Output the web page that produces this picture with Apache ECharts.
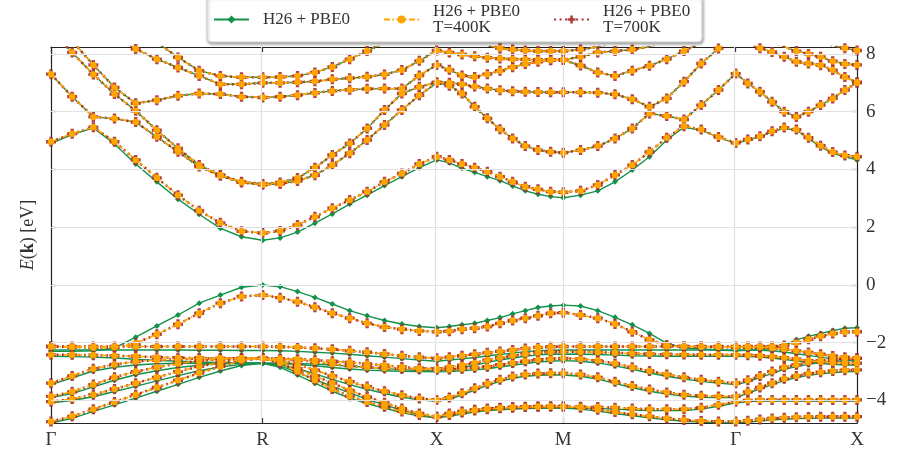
<!DOCTYPE html>
<html><head><meta charset="utf-8">
<script src="https://cdn.jsdelivr.net/npm/echarts@6/dist/echarts.min.js"></script>
<style>html,body{margin:0;padding:0;background:#fff}#c{width:898px;height:461px}</style>
</head><body><div id="c"></div>
<script>
// High-symmetry points along the k-path (path-length coordinates) and their labels
const kLabels = ['Γ','R','X','M','Γ','X'];
const kPos = [0, 0.8641, 1.5743, 2.0910, 2.7947, 3.2898];
const pointsPerSegment = 10;
const yTicks = [-4, -2, 0, 2, 4, 6, 8];
const yMin = -4.78, yMax = 8.24;

// ---- H26 + PBE0 (green) ----
const G_CB1 = [4.90,5.21,5.44,4.88,4.19,3.57,2.97,2.45,1.96,1.67,1.55, 1.63,1.83,2.14,2.46,2.80,3.11,3.44,3.75,4.06,4.33, 4.23,4.04,3.90,3.75,3.61,3.43,3.26,3.14,3.06,3.02, 3.11,3.26,3.57,3.98,4.44,5.02,5.46,5.36,5.11,4.90, 5.02,5.13,5.30,5.42,5.36,5.07,4.79,4.56,4.44,4.33];
const G_VB1 = [-2.30,-2.30,-2.28,-2.19,-1.81,-1.42,-1.04,-0.63,-0.35,-0.08,0.00, -0.06,-0.23,-0.43,-0.66,-0.89,-1.07,-1.23,-1.35,-1.44,-1.48, -1.44,-1.38,-1.33,-1.23,-1.13,-1.00,-0.89,-0.78,-0.73,-0.70, -0.73,-0.89,-1.12,-1.38,-1.68,-2.02,-2.18,-2.22,-2.25,-2.28, -2.26,-2.24,-2.20,-2.10,-1.90,-1.78,-1.68,-1.58,-1.50,-1.48];
const G_VB2 = [-2.25,-2.25,-2.25,-2.25,-2.25,-2.25,-2.25,-2.26,-2.26,-2.27,-2.27, -2.28,-2.30,-2.33,-2.36,-2.40,-2.45,-2.50,-2.55,-2.60,-2.64, -2.60,-2.56,-2.51,-2.46,-2.41,-2.36,-2.31,-2.28,-2.26,-2.25, -2.25,-2.25,-2.25,-2.25,-2.25,-2.25,-2.25,-2.25,-2.25,-2.25, -2.25,-2.26,-2.28,-2.32,-2.38,-2.44,-2.50,-2.56,-2.60,-2.64];
const G_VB3 = [-2.47,-2.48,-2.50,-2.53,-2.57,-2.61,-2.64,-2.67,-2.69,-2.70,-2.71, -2.71,-2.72,-2.74,-2.77,-2.81,-2.85,-2.89,-2.93,-2.96,-2.98, -2.93,-2.86,-2.78,-2.68,-2.60,-2.53,-2.47,-2.42,-2.40,-2.39, -2.40,-2.41,-2.43,-2.45,-2.46,-2.47,-2.47,-2.47,-2.47,-2.47, -2.48,-2.50,-2.53,-2.58,-2.63,-2.68,-2.72,-2.75,-2.77,-2.78];
const G_VB4 = [-3.45,-3.22,-2.98,-2.85,-2.77,-2.73,-2.71,-2.71,-2.71,-2.71,-2.71, -2.72,-2.75,-2.80,-2.86,-2.91,-2.95,-2.97,-2.99,-3.00,-3.01, -3.00,-2.97,-2.94,-2.90,-2.84,-2.78,-2.72,-2.67,-2.64,-2.62, -2.64,-2.70,-2.80,-2.92,-3.05,-3.16,-3.26,-3.34,-3.40,-3.45, -3.35,-3.21,-3.06,-2.92,-2.83,-2.75,-2.69,-2.65,-2.62,-2.61];
const G_VB5 = [-3.90,-3.76,-3.53,-3.30,-3.11,-2.97,-2.86,-2.78,-2.73,-2.71,-2.71, -2.76,-2.90,-3.08,-3.27,-3.45,-3.61,-3.76,-3.89,-3.98,-4.03, -3.95,-3.81,-3.64,-3.48,-3.34,-3.23,-3.16,-3.13,-3.12,-3.12, -3.16,-3.26,-3.41,-3.56,-3.68,-3.78,-3.85,-3.89,-3.90,-3.90, -3.75,-3.60,-3.45,-3.31,-3.21,-3.13,-3.08,-3.04,-3.01,-3.00];
const G_VB6 = [-4.08,-4.00,-3.87,-3.69,-3.51,-3.32,-3.14,-2.97,-2.84,-2.75,-2.71, -2.80,-3.03,-3.27,-3.51,-3.74,-3.96,-4.15,-4.34,-4.50,-4.60, -4.50,-4.43,-4.37,-4.33,-4.30,-4.28,-4.27,-4.26,-4.26,-4.26, -4.27,-4.28,-4.30,-4.33,-4.35,-4.35,-4.35,-4.30,-4.20,-4.08, -4.04,-4.02,-4.02,-4.02,-4.02,-4.02,-4.02,-4.02,-4.02,-4.02];
const G_VB7 = [-4.78,-4.62,-4.38,-4.15,-3.92,-3.68,-3.44,-3.20,-2.98,-2.79,-2.71, -2.85,-3.12,-3.40,-3.68,-3.92,-4.11,-4.27,-4.42,-4.54,-4.60, -4.55,-4.47,-4.40,-4.35,-4.32,-4.30,-4.28,-4.27,-4.26,-4.26, -4.30,-4.37,-4.45,-4.53,-4.60,-4.67,-4.72,-4.75,-4.77,-4.78, -4.75,-4.71,-4.67,-4.65,-4.63,-4.62,-4.61,-4.61,-4.61,-4.61];

// ---- H26 + PBE0, finite temperature (T=400K and T=700K coincide at this resolution) ----
const T_CB1 = [4.96,5.24,5.46,4.96,4.33,3.71,3.11,2.57,2.15,1.86,1.80, 1.87,2.08,2.36,2.66,2.94,3.23,3.57,3.86,4.19,4.44, 4.33,4.19,4.06,3.92,3.75,3.57,3.40,3.31,3.23,3.21, 3.26,3.46,3.81,4.15,4.61,5.10,5.50,5.38,5.12,4.92, 5.04,5.15,5.32,5.45,5.38,5.10,4.82,4.60,4.48,4.44];
const T_VB1 = [-2.13,-2.15,-2.17,-2.16,-2.02,-1.71,-1.36,-0.98,-0.63,-0.40,-0.35, -0.44,-0.58,-0.77,-0.98,-1.15,-1.33,-1.46,-1.53,-1.59,-1.62, -1.60,-1.53,-1.50,-1.44,-1.33,-1.23,-1.15,-1.07,-0.98,-0.96, -1.04,-1.15,-1.35,-1.62,-1.90,-2.08,-2.13,-2.13,-2.13,-2.13, -2.13,-2.13,-2.13,-2.10,-2.00,-1.88,-1.78,-1.68,-1.63,-1.62];
const T_VB2 = [-2.13,-2.13,-2.13,-2.13,-2.13,-2.13,-2.13,-2.13,-2.13,-2.13,-2.13, -2.14,-2.16,-2.19,-2.23,-2.28,-2.33,-2.39,-2.45,-2.50,-2.54, -2.50,-2.45,-2.40,-2.35,-2.30,-2.25,-2.20,-2.16,-2.14,-2.13, -2.13,-2.13,-2.13,-2.13,-2.13,-2.13,-2.13,-2.14,-2.15,-2.16, -2.16,-2.16,-2.18,-2.22,-2.28,-2.34,-2.40,-2.46,-2.50,-2.54];
const T_VB3 = [-2.42,-2.42,-2.43,-2.45,-2.47,-2.50,-2.52,-2.53,-2.54,-2.54,-2.54, -2.55,-2.57,-2.60,-2.64,-2.68,-2.73,-2.78,-2.84,-2.88,-2.90, -2.85,-2.78,-2.70,-2.60,-2.52,-2.45,-2.39,-2.34,-2.32,-2.31, -2.32,-2.33,-2.35,-2.37,-2.39,-2.40,-2.41,-2.42,-2.42,-2.42, -2.43,-2.45,-2.48,-2.52,-2.57,-2.62,-2.66,-2.69,-2.71,-2.71];
const T_VB4 = [-3.40,-3.15,-2.90,-2.75,-2.65,-2.60,-2.57,-2.55,-2.54,-2.54,-2.54, -2.56,-2.60,-2.66,-2.74,-2.80,-2.85,-2.88,-2.90,-2.92,-2.94, -2.93,-2.90,-2.87,-2.83,-2.76,-2.70,-2.64,-2.59,-2.56,-2.54, -2.56,-2.62,-2.72,-2.85,-2.98,-3.10,-3.20,-3.28,-3.35,-3.40, -3.30,-3.15,-3.00,-2.85,-2.76,-2.68,-2.62,-2.58,-2.55,-2.54];
const T_VB5 = [-3.86,-3.70,-3.45,-3.20,-3.00,-2.85,-2.72,-2.63,-2.57,-2.54,-2.54, -2.60,-2.75,-2.95,-3.15,-3.35,-3.52,-3.68,-3.82,-3.93,-3.98, -3.90,-3.75,-3.58,-3.42,-3.28,-3.17,-3.10,-3.07,-3.06,-3.06, -3.10,-3.20,-3.35,-3.50,-3.62,-3.72,-3.80,-3.84,-3.86,-3.86, -3.70,-3.55,-3.40,-3.25,-3.15,-3.07,-3.02,-2.98,-2.95,-2.94];
const T_VB6 = [-4.04,-3.95,-3.80,-3.60,-3.40,-3.20,-3.00,-2.82,-2.68,-2.58,-2.54, -2.65,-2.90,-3.15,-3.40,-3.65,-3.88,-4.08,-4.28,-4.45,-4.56, -4.45,-4.38,-4.32,-4.28,-4.25,-4.23,-4.22,-4.21,-4.21,-4.21, -4.22,-4.23,-4.25,-4.28,-4.30,-4.30,-4.30,-4.25,-4.15,-4.04, -4.00,-3.98,-3.98,-3.98,-3.98,-3.98,-3.98,-3.98,-3.98,-3.98];
const T_VB7 = [-4.73,-4.55,-4.30,-4.05,-3.80,-3.55,-3.30,-3.05,-2.82,-2.62,-2.54, -2.70,-3.00,-3.30,-3.60,-3.85,-4.05,-4.22,-4.38,-4.50,-4.56, -4.50,-4.42,-4.35,-4.30,-4.27,-4.25,-4.23,-4.22,-4.21,-4.21, -4.25,-4.32,-4.40,-4.48,-4.55,-4.62,-4.68,-4.71,-4.73,-4.73, -4.70,-4.66,-4.62,-4.60,-4.58,-4.57,-4.56,-4.56,-4.56,-4.56];

// ---- upper conduction bands, where all three calculations coincide ----
const CB2 = [7.30,6.52,5.82,5.76,5.64,5.13,4.61,4.10,3.78,3.55,3.47, 3.50,3.60,3.80,4.15,4.56,5.02,5.54,6.06,6.57,7.00, 6.90,6.63,6.17,5.77,5.39,5.07,4.81,4.67,4.61,4.58, 4.67,4.81,5.07,5.42,5.94,5.85,5.73,6.23,6.75,7.32, 6.98,6.69,6.34,6.00,5.82,6.00,6.23,6.46,6.75,7.00];
const CB3 = [8.80,8.05,7.29,6.61,6.03,5.36,4.73,4.15,3.81,3.57,3.50, 3.55,3.70,4.06,4.50,4.90,5.42,6.06,6.63,6.86,7.02, 7.00,6.95,6.87,6.80,6.74,6.71,6.69,6.68,6.67,6.67, 6.67,6.66,6.60,6.43,6.17,6.46,7.04,7.67,8.19,8.70, 8.40,8.20,8.07,7.90,7.73,7.67,7.61,7.44,7.20,7.02];
const CB4 = [9.20,8.45,7.62,6.84,6.29,6.40,6.55,6.63,6.61,6.52,6.49, 6.52,6.57,6.65,6.72,6.76,6.79,6.80,6.80,7.25,7.62, 7.45,7.25,7.20,7.30,7.42,7.54,7.65,7.73,7.78,7.79, 7.60,7.36,7.24,7.42,7.59,7.82,8.10,8.40,8.70,9.00, 8.80,8.60,8.40,8.25,8.10,8.00,7.90,7.75,7.65,7.62];
const CB5 = [9.60,9.30,9.00,8.70,8.17,7.82,7.53,7.24,6.95,6.95,7.00, 7.00,7.02,7.05,7.12,7.16,7.21,7.29,7.44,7.76,8.12, 8.05,7.98,7.92,7.87,7.84,7.82,7.81,7.80,7.80,7.80, 7.90,8.05,8.10,8.15,8.25,8.50,8.70,8.90,9.10,9.30, 9.10,8.95,8.80,8.70,8.60,8.50,8.40,8.30,8.20,8.12];
const CB6 = [9.80,9.60,9.40,9.10,9.00,8.40,7.88,7.42,7.24,7.19,7.19, 7.20,7.24,7.36,7.55,7.82,8.10,8.40,8.70,8.95,9.10, 8.80,8.60,8.45,8.30,8.20,8.15,8.12,8.10,8.10,8.10, 8.15,8.25,8.40,8.60,8.80,9.00,9.20,9.40,9.50,9.60, 9.50,9.40,9.30,9.20,9.10,9.00,8.90,8.80,8.70,8.60];

const bandsGreen = [G_CB1, CB2, CB3, CB4, CB5, CB6, G_VB1, G_VB2, G_VB3, G_VB4, G_VB5, G_VB6, G_VB7];
const bands400 = [T_CB1, CB2, CB3, CB4, CB5, CB6, T_VB1, T_VB2, T_VB3, T_VB4, T_VB5, T_VB6, T_VB7];
const bands700 = [T_CB1, CB2, CB3, CB4, CB5, CB6, T_VB1, T_VB2, T_VB3, T_VB4, T_VB5, T_VB6, T_VB7];

// k-grid: evenly spaced points inside each path segment
const kGrid = [];
for (let s = 0; s < kPos.length - 1; s++) {
  for (let i = 0; i < pointsPerSegment; i++) kGrid.push(kPos[s] + (kPos[s+1] - kPos[s]) * i / pointsPerSegment);
}
kGrid.push(kPos[kPos.length - 1]);

const NAME_G = 'H26 + PBE0', NAME_4 = 'H26 + PBE0\nT=400K', NAME_7 = 'H26 + PBE0\nT=700K';
const GREEN = '#12924a', ORANGE = '#ffa500', RED = '#a8302c';
const PLUS = 'path://M3,0H6V3H9V6H6V9H3V6H0V3H3Z';
const FONT = 'Liberation Serif';

const series = [];
// grid lines (drawn under the data)
series.push({
  type: 'line', data: [], silent: true, z: 0,
  markLine: {
    silent: true, symbol: 'none', label: {show: false}, animation: false,
    lineStyle: {color: '#e2e2e2', width: 1.2, type: 'solid'},
    data: kPos.slice(1, -1).map(x => ({xAxis: x})).concat(yTicks.map(y => ({yAxis: y})))
  }
});
function addSet(bands, name, style) {
  bands.forEach(b => {
    series.push(Object.assign({
      type: 'line', name: name, animation: false,
      data: kGrid.map((k, i) => [k, b[i]]),
      clip: true
    }, style));
  });
}
addSet(bandsGreen, NAME_G, {
  z: 2, color: GREEN, symbol: 'diamond', symbolSize: 6,
  lineStyle: {color: GREEN, width: 1.4, type: 'solid'},
  itemStyle: {color: GREEN}
});
addSet(bands700, NAME_7, {
  z: 3, color: RED, symbol: PLUS, symbolSize: 10,
  lineStyle: {color: RED, width: 2.5, type: [2, 3.5]},
  itemStyle: {color: RED, opacity: 0.9}
});
addSet(bands400, NAME_4, {
  z: 4, color: ORANGE, symbol: 'circle', symbolSize: 6.5,
  lineStyle: {color: ORANGE, width: 1.5, type: [6, 2.5, 1.5, 2.5]},
  itemStyle: {color: ORANGE}
});

const axisLineStyle = {color: '#222', width: 1.2};
const fmtY = v => (v < 0 ? '\u2212' + (-v) : String(v));
function nearestLabel(v) {
  let best = 0;
  kPos.forEach((p, i) => { if (Math.abs(p - v) < Math.abs(kPos[best] - v)) best = i; });
  return kLabels[best];
}

const chart = echarts.init(document.getElementById('c'), null, {renderer: 'canvas'});
chart.setOption({
  animation: false,
  backgroundColor: '#fff',
  grid: {left: 51, right: 41, top: 47, bottom: 38, containLabel: false},
  legend: {
    data: [NAME_G, NAME_4, NAME_7],
    left: 207, top: -4,
    padding: [7, 12, 6, 6],
    itemGap: 33, itemWidth: 35, itemHeight: 10,
    backgroundColor: '#fff', borderColor: '#cccccc', borderWidth: 1, borderRadius: 4,
    shadowColor: 'rgba(0,0,0,0.35)', shadowBlur: 3, shadowOffsetX: 1, shadowOffsetY: 2,
    textStyle: {fontFamily: FONT, fontSize: 17, color: '#333', lineHeight: 16, padding: [0, 0, 0, 9]},
    selectedMode: false
  },
  xAxis: [{
    type: 'value', position: 'bottom', min: 0, max: kPos[kPos.length - 1],
    axisLine: {show: true, onZero: false, lineStyle: axisLineStyle},
    axisTick: {show: true, inside: true, length: 5, customValues: kPos, lineStyle: axisLineStyle},
    axisLabel: {show: true, customValues: kPos, formatter: v => nearestLabel(v), fontFamily: FONT, fontSize: 19, color: '#333', margin: 8},
    splitLine: {show: false}
  }, {
    type: 'value', position: 'top', min: 0, max: kPos[kPos.length - 1],
    axisLine: {show: true, onZero: false, lineStyle: axisLineStyle},
    axisTick: {show: true, inside: true, length: 5, customValues: kPos, lineStyle: axisLineStyle},
    axisLabel: {show: false}, splitLine: {show: false}
  }],
  yAxis: [{
    type: 'value', position: 'left', min: yMin, max: yMax,
    axisLine: {show: true, onZero: false, lineStyle: axisLineStyle},
    axisTick: {show: true, inside: true, length: 5, customValues: yTicks, lineStyle: axisLineStyle},
    axisLabel: {show: false}, splitLine: {show: false},
    name: '{i|E}({b|k}) [eV]', nameLocation: 'middle', nameGap: 14, nameRotate: 90,
    nameTextStyle: {fontFamily: FONT, fontSize: 18, color: '#333',
      rich: {i: {fontStyle: 'italic', fontFamily: FONT, fontSize: 18, color: '#333'},
             b: {fontWeight: 'bold', fontFamily: FONT, fontSize: 18, color: '#333'}}}
  }, {
    type: 'value', position: 'right', min: yMin, max: yMax,
    axisLine: {show: true, onZero: false, lineStyle: axisLineStyle},
    axisTick: {show: true, inside: true, length: 5, customValues: yTicks, lineStyle: axisLineStyle},
    axisLabel: {show: true, customValues: yTicks, formatter: fmtY, fontFamily: FONT, fontSize: 19, color: '#333', margin: 9},
    splitLine: {show: false}
  }],
  series: series
});
</script></body></html>
